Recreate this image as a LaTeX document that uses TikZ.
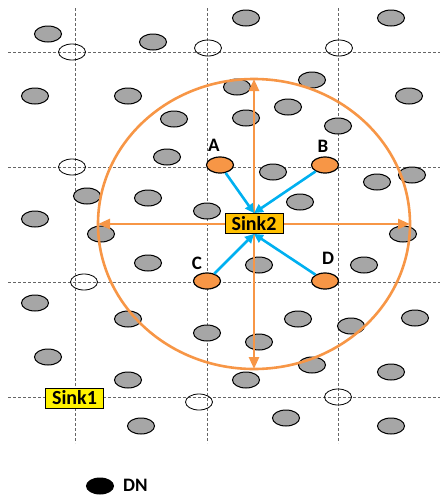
\documentclass[tikz,border=0pt]{standalone}
\usepackage{fontspec}
\setmainfont{Carlito}
\usetikzlibrary{shapes.geometric, arrows.meta}

\definecolor{ringorange}{HTML}{F79646}
\definecolor{linkblue}{HTML}{00B0F0}
\definecolor{dngray}{HTML}{A6A6A6}
\definecolor{sinkgold}{HTML}{FFC000}

\tikzset{
  dn/.style={draw, ellipse, fill=dngray, line width=1pt,
    minimum width=27pt, minimum height=16pt, inner sep=0pt},
  spot/.style={draw, ellipse, line width=0.8pt,
    minimum width=27pt, minimum height=16pt, inner sep=0pt},
  member/.style={dn, fill=ringorange, line width=1.2pt},
  sinkbox/.style={draw, line width=0.9pt, inner sep=0pt,
    minimum width=58pt, minimum height=20pt,
    font=\bfseries\fontsize{20}{22}\selectfont},
  tag/.style={font=\bfseries\fontsize{19}{21}\selectfont, inner sep=0pt},
  gridline/.style={densely dashed, gray!80!black, line width=0.6pt},
  reach/.style={ringorange, line width=2.6pt, -{Triangle[length=12pt, width=10pt]}},
  hop/.style={linkblue, line width=2.6pt, -{Triangle[length=9pt, width=9pt]}}
}

\begin{document}
\begin{tikzpicture}[x=1pt, y=-1pt]
  \useasboundingbox (0,0) rectangle (440,496);

  % grid
  \draw [gridline] (75,8) -- (75,443);
  \draw [gridline] (207,8) -- (207,443);
  \draw [gridline] (338,8) -- (338,443);
  \draw [gridline] (8,52) -- (440,52);
  \draw [gridline] (8,167) -- (440,167);
  \draw [gridline] (8,282) -- (440,282);
  \draw [gridline] (8,397) -- (440,397);

  % empty spots
  \node [spot] (op1) at (72,52) {};
  \node [spot] (op2) at (208,48) {};
  \node [spot] (op3) at (339,48) {};
  \node [spot] (op4) at (72,167) {};
  \node [spot] (op5) at (84,282) {};
  \node [spot] (op6) at (199,402) {};
  \node [spot] (op7) at (338,397) {};

  % DN nodes
  \node [dn] (dn1) at (48,34) {};
  \node [dn] (dn2) at (153,42) {};
  \node [dn] (dn3) at (246,18) {};
  \node [dn] (dn4) at (391,18) {};
  \node [dn] (dn5) at (35,96) {};
  \node [dn] (dn6) at (128,96) {};
  \node [dn] (dn7) at (174,119) {};
  \node [dn] (dn8) at (237,87) {};
  \node [dn] (dn9) at (312,80) {};
  \node [dn] (dn10) at (409,96) {};
  \node [dn] (dn11) at (288,107) {};
  \node [dn] (dn12) at (246,118) {};
  \node [dn] (dn13) at (338,126) {};
  \node [dn] (dn14) at (167,157) {};
  \node [dn] (dn15) at (87,196) {};
  \node [dn] (dn16) at (148,198) {};
  \node [dn] (dn17) at (207,211) {};
  \node [dn] (dn18) at (35,219) {};
  \node [dn] (dn19) at (101,234) {};
  \node [dn] (dn20) at (273,172) {};
  \node [dn] (dn21) at (377,182) {};
  \node [dn] (dn22) at (412,175) {};
  \node [dn] (dn23) at (300,202) {};
  \node [dn] (dn24) at (403,234) {};
  \node [dn] (dn25) at (148,263) {};
  \node [dn] (dn26) at (259,265) {};
  \node [dn] (dn27) at (364,265) {};
  \node [dn] (dn28) at (35,303) {};
  \node [dn] (dn29) at (128,319) {};
  \node [dn] (dn30) at (207,333) {};
  \node [dn] (dn31) at (298,319) {};
  \node [dn] (dn32) at (351,326) {};
  \node [dn] (dn33) at (415,318) {};
  \node [dn] (dn34) at (259,342) {};
  \node [dn] (dn35) at (48,357) {};
  \node [dn] (dn36) at (128,380) {};
  \node [dn] (dn37) at (246,380) {};
  \node [dn] (dn38) at (312,365) {};
  \node [dn] (dn39) at (391,372) {};
  \node [dn] (dn40) at (141,426) {};
  \node [dn] (dn41) at (286,418) {};
  \node [dn] (dn42) at (391,426) {};

  % range of sink2
  \draw [ringorange, line width=2.6pt] (254,224) ellipse [x radius=156, y radius=145];
  \coordinate (hub) at (254,224);
  \coordinate (rtop) at (254,79);
  \coordinate (rbottom) at (254,369);
  \coordinate (rleft) at (98,224);
  \coordinate (rright) at (410,224);
  \draw [reach] (hub) -- (rtop);
  \draw [reach] (hub) -- (rbottom);
  \draw [reach] (hub) -- (rleft);
  \draw [reach] (hub) -- (rright);

  % sinks
  \node [sinkbox, fill=sinkgold] (sink2) at (254,223.5) {Sink2};
  \node [sinkbox, fill=yellow] (sink1) at (74.5,398) {Sink1};

  % members
  \node [member] (nA) at (220,165) {};
  \node [member] (nB) at (325,165) {};
  \node [member] (nC) at (207,281) {};
  \node [member] (nD) at (325,281) {};
  \node [tag] (lA) at (214,145) {A};
  \node [tag] (lB) at (323,146) {B};
  \node [tag] (lC) at (197,263) {C};
  \node [tag] (lD) at (328,258) {D};
  \draw [hop] (nA) -- (sink2.north);
  \draw [hop] (nB) -- (sink2.north);
  \draw [hop] (nC) -- (sink2.south);
  \draw [hop] (nD) -- (sink2.south);

  % legend
  \node [dn, fill=black] (key) at (100,486) {};
  \node [tag, anchor=west] (keytext) at (123,485) {DN};
\end{tikzpicture}
\end{document}
